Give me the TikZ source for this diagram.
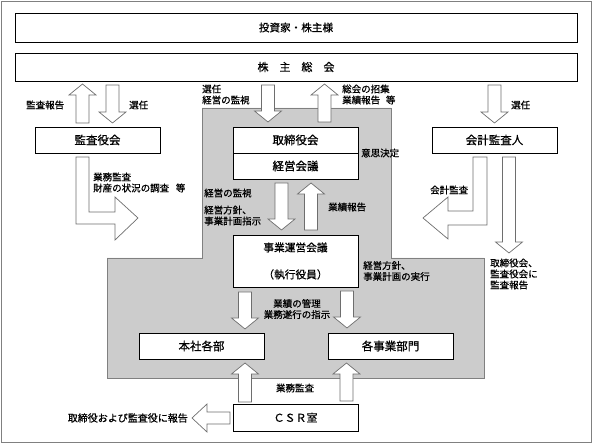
\documentclass[tikz,border=0pt]{standalone}
\usepackage{fontspec}
\setmainfont{Noto Sans CJK JP}[FakeBold=0.7]
\usetikzlibrary{calc}
\definecolor{regiongray}{RGB}{204,204,204}
\definecolor{linegray}{RGB}{128,128,128}
\definecolor{arrowline}{RGB}{110,110,110}
\tikzset{
  box/.style={draw=black,line width=0.9pt,fill=white,inner sep=0pt,font=\fontsize{11.5}{13}\selectfont},
  lbl/.style={inner sep=0pt,font=\fontsize{9.5}{11}\selectfont,align=left},
  barrow/.style={draw=arrowline,line width=0.7pt,fill=white,line join=miter},
  region/.style={draw=linegray,line width=0.7pt,fill=regiongray},
}
\newcommand{\VBArrow}[3]{% x, tail y, tip y
  \pgfmathsetmacro{\barrowhb}{#3-11*sign(#3-#2)}%
  \draw[barrow] ({#1-6.5},#2) -- ({#1-6.5},\barrowhb) -- ({#1-13.5},\barrowhb) -- (#1,#3) -- ({#1+13.5},\barrowhb) -- ({#1+6.5},\barrowhb) -- ({#1+6.5},#2) -- cycle;}
\begin{document}
\begin{tikzpicture}[x=1pt,y=-1pt]
\useasboundingbox (0,0) rectangle (592,443);
\draw[linegray,line width=0.8pt] (1,1) rectangle (591,442);
% gray region
\draw[region] (202,108) -- (391,108) -- (391,258) -- (484,258) -- (484,378) -- (107,378) -- (107,258) -- (202,258) -- cycle;
% boxes
\node[box,minimum width=562pt,minimum height=29pt,font=\fontsize{10.6}{12}\selectfont] (investor) at (296,27.5) {投資家・株主様};
\node[box,minimum width=562pt,minimum height=28pt,font=\fontsize{11}{12}\selectfont] (gm) at (296,67) {株　主　総　会};
\node[box,minimum width=125pt,minimum height=26pt] (kansa) at (97.5,140) {監査役会};
\node[box,minimum width=125pt,minimum height=26pt] (board) at (295.5,140) {取締役会};
\node[box,minimum width=125pt,minimum height=26pt] (mgmt) at (295.5,166) {経営会議};
\node[box,minimum width=125pt,minimum height=26pt] (auditor) at (494.5,140) {会計監査人};
\node[box,minimum width=125pt,minimum height=52pt,align=center,font=\fontsize{10.7}{27}\selectfont] (exec) at (295.5,261) {事業運営会議\\（執行役員）};
\node[box,minimum width=125pt,minimum height=26pt] (hq) at (201.5,346) {本社各部};
\node[box,minimum width=125pt,minimum height=26pt] (biz) at (390.5,346) {各事業部門};
\node[box,minimum width=125pt,minimum height=27pt,font=\fontsize{11}{12}\selectfont] (csr) at (295.5,417.5) {ＣＳＲ室};
% straight block arrows
\VBArrow{82.5}{123}{84}
\VBArrow{112.5}{85}{123}
\VBArrow{268}{85}{122}
\VBArrow{324.5}{122}{84}
\VBArrow{494.5}{85}{123}
\VBArrow{281.5}{183}{230}
\VBArrow{311}{230}{183}
\VBArrow{245}{292}{329}
\VBArrow{347}{291}{328}
\VBArrow{245}{402}{363}
\VBArrow{346.5}{401}{363}
\VBArrow{509}{157}{253}
% left arrow from CSR
\draw[barrow] (230,412) -- (207,412) -- (207,404) -- (192,418) -- (207,432) -- (207,424) -- (230,424) -- cycle;
% L arrows
\draw[barrow] (76,157) -- (89,157) -- (89,212) -- (115,212) -- (115,197) -- (138,218) -- (115,240) -- (115,224) -- (76,224) -- cycle;
\draw[barrow] (473,157) -- (487,157) -- (487,225) -- (448,225) -- (448,239) -- (423,218) -- (448,197) -- (448,211) -- (473,211) -- cycle;
% labels
\node[lbl,anchor=west] (l1) at (26,105) {監査報告};
\node[lbl,anchor=west] (l2) at (129,105) {選任};
\node[lbl,anchor=west] (l3) at (202,94.5) {選任\\経営の監視};
\node[lbl,anchor=west] (l4) at (342,94.5) {総会の招集\\業績報告\hspace{0.6em}等};
\node[lbl,anchor=west] (l5) at (511,105) {選任};
\node[lbl,anchor=west] (l6) at (361,153) {意思決定};
\node[lbl,anchor=west] (l7) at (93,182.5) {業務監査\\財産の状況の調査\hspace{0.7em}等};
\node[lbl,anchor=west] (l8) at (204,193) {経営の監視};
\node[lbl,anchor=west] (l9) at (204,215.5) {経営方針、\\事業計画指示};
\node[lbl,anchor=west] (l10) at (328,207) {業績報告};
\node[lbl,anchor=west] (l11) at (430,190) {会計監査};
\node[lbl,anchor=west] (l12) at (490,274) {取締役会、\\監査役会に\\監査報告};
\node[lbl,anchor=west] (l13) at (363,271) {経営方針、\\事業計画の実行};
\node[lbl,align=center] (l14) at (297,309) {業績の管理\\業務遂行の指示};
\node[lbl] (l15) at (295,388) {業務監査};
\node[lbl,anchor=east,font=\fontsize{10}{11}\selectfont] (l16) at (188,418) {取締役および監査役に報告};
\end{tikzpicture}
\end{document}
